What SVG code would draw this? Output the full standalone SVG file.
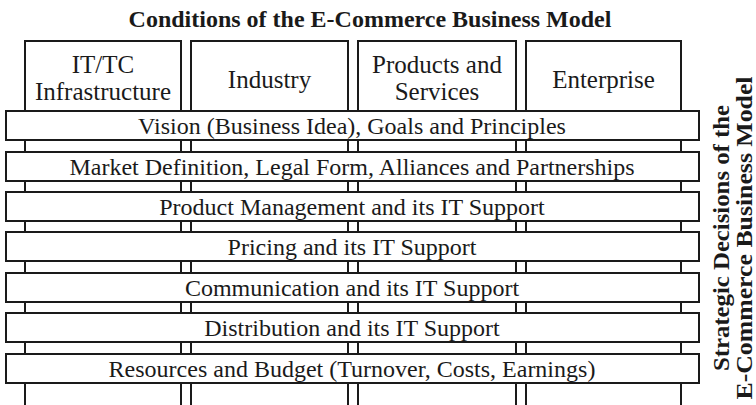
<svg xmlns="http://www.w3.org/2000/svg" width="756" height="405" viewBox="0 0 756 405">
<style>
  .col { fill: #fff; stroke: #1a1a1a; stroke-width: 2; }
  .bar { fill: #fff; stroke: #1a1a1a; stroke-width: 2; }
  .hd { font-family: "Liberation Serif", "Times New Roman", serif; font-size: 25px; fill: #1a1a1a; text-anchor: middle; }
  .bt { font-family: "Liberation Serif", "Times New Roman", serif; font-size: 24px; fill: #1a1a1a; text-anchor: middle; }
  .ttl { font-family: "Liberation Serif", "Times New Roman", serif; font-size: 24px; font-weight: bold; fill: #1a1a1a; text-anchor: middle; }
  .side { font-family: "Liberation Serif", "Times New Roman", serif; font-size: 24px; font-weight: bold; fill: #1a1a1a; text-anchor: middle; }
</style>
<rect width="756" height="405" fill="#fff"/>
<g id="title">
  <text class="ttl" x="370" y="27">Conditions of the E-Commerce Business Model</text>
</g>
<g id="col-ittc">
  <rect class="col" x="25" y="41" width="156" height="380"/>
  <text class="hd" x="103" y="73">IT/TC</text>
  <text class="hd" x="103" y="100">Infrastructure</text>
</g>
<g id="col-industry">
  <rect class="col" x="191" y="41" width="157" height="380"/>
  <text class="hd" x="269.5" y="88">Industry</text>
</g>
<g id="col-products">
  <rect class="col" x="358" y="41" width="158" height="380"/>
  <text class="hd" x="437" y="73">Products and</text>
  <text class="hd" x="437" y="100">Services</text>
</g>
<g id="col-enterprise">
  <rect class="col" x="526" y="41" width="155" height="380"/>
  <text class="hd" x="603.5" y="88">Enterprise</text>
</g>
<g id="bar-vision">
  <rect class="bar" x="6" y="111" width="693" height="29"/>
  <text class="bt" x="352" y="134">Vision (Business Idea), Goals and Principles</text>
</g>
<g id="bar-market">
  <rect class="bar" x="6" y="152" width="693" height="29"/>
  <text class="bt" x="352" y="175">Market Definition, Legal Form, Alliances and Partnerships</text>
</g>
<g id="bar-product">
  <rect class="bar" x="6" y="192" width="693" height="29"/>
  <text class="bt" x="352" y="215">Product Management and its IT Support</text>
</g>
<g id="bar-pricing">
  <rect class="bar" x="6" y="232" width="693" height="29"/>
  <text class="bt" x="352" y="255">Pricing and its IT Support</text>
</g>
<g id="bar-communication">
  <rect class="bar" x="6" y="273" width="693" height="29"/>
  <text class="bt" x="352" y="296">Communication and its IT Support</text>
</g>
<g id="bar-distribution">
  <rect class="bar" x="6" y="313" width="693" height="29"/>
  <text class="bt" x="352" y="336">Distribution and its IT Support</text>
</g>
<g id="bar-resources">
  <rect class="bar" x="6" y="354" width="693" height="29"/>
  <text class="bt" x="352" y="377">Resources and Budget (Turnover, Costs, Earnings)</text>
</g>
<g id="side-label">
  <text class="side" transform="translate(729,238) rotate(-90)" textLength="266" lengthAdjust="spacingAndGlyphs">Strategic Decisions of the</text>
  <text class="side" transform="translate(752,238) rotate(-90)" textLength="323" lengthAdjust="spacingAndGlyphs">E-Commerce Business Model</text>
</g>
</svg>
